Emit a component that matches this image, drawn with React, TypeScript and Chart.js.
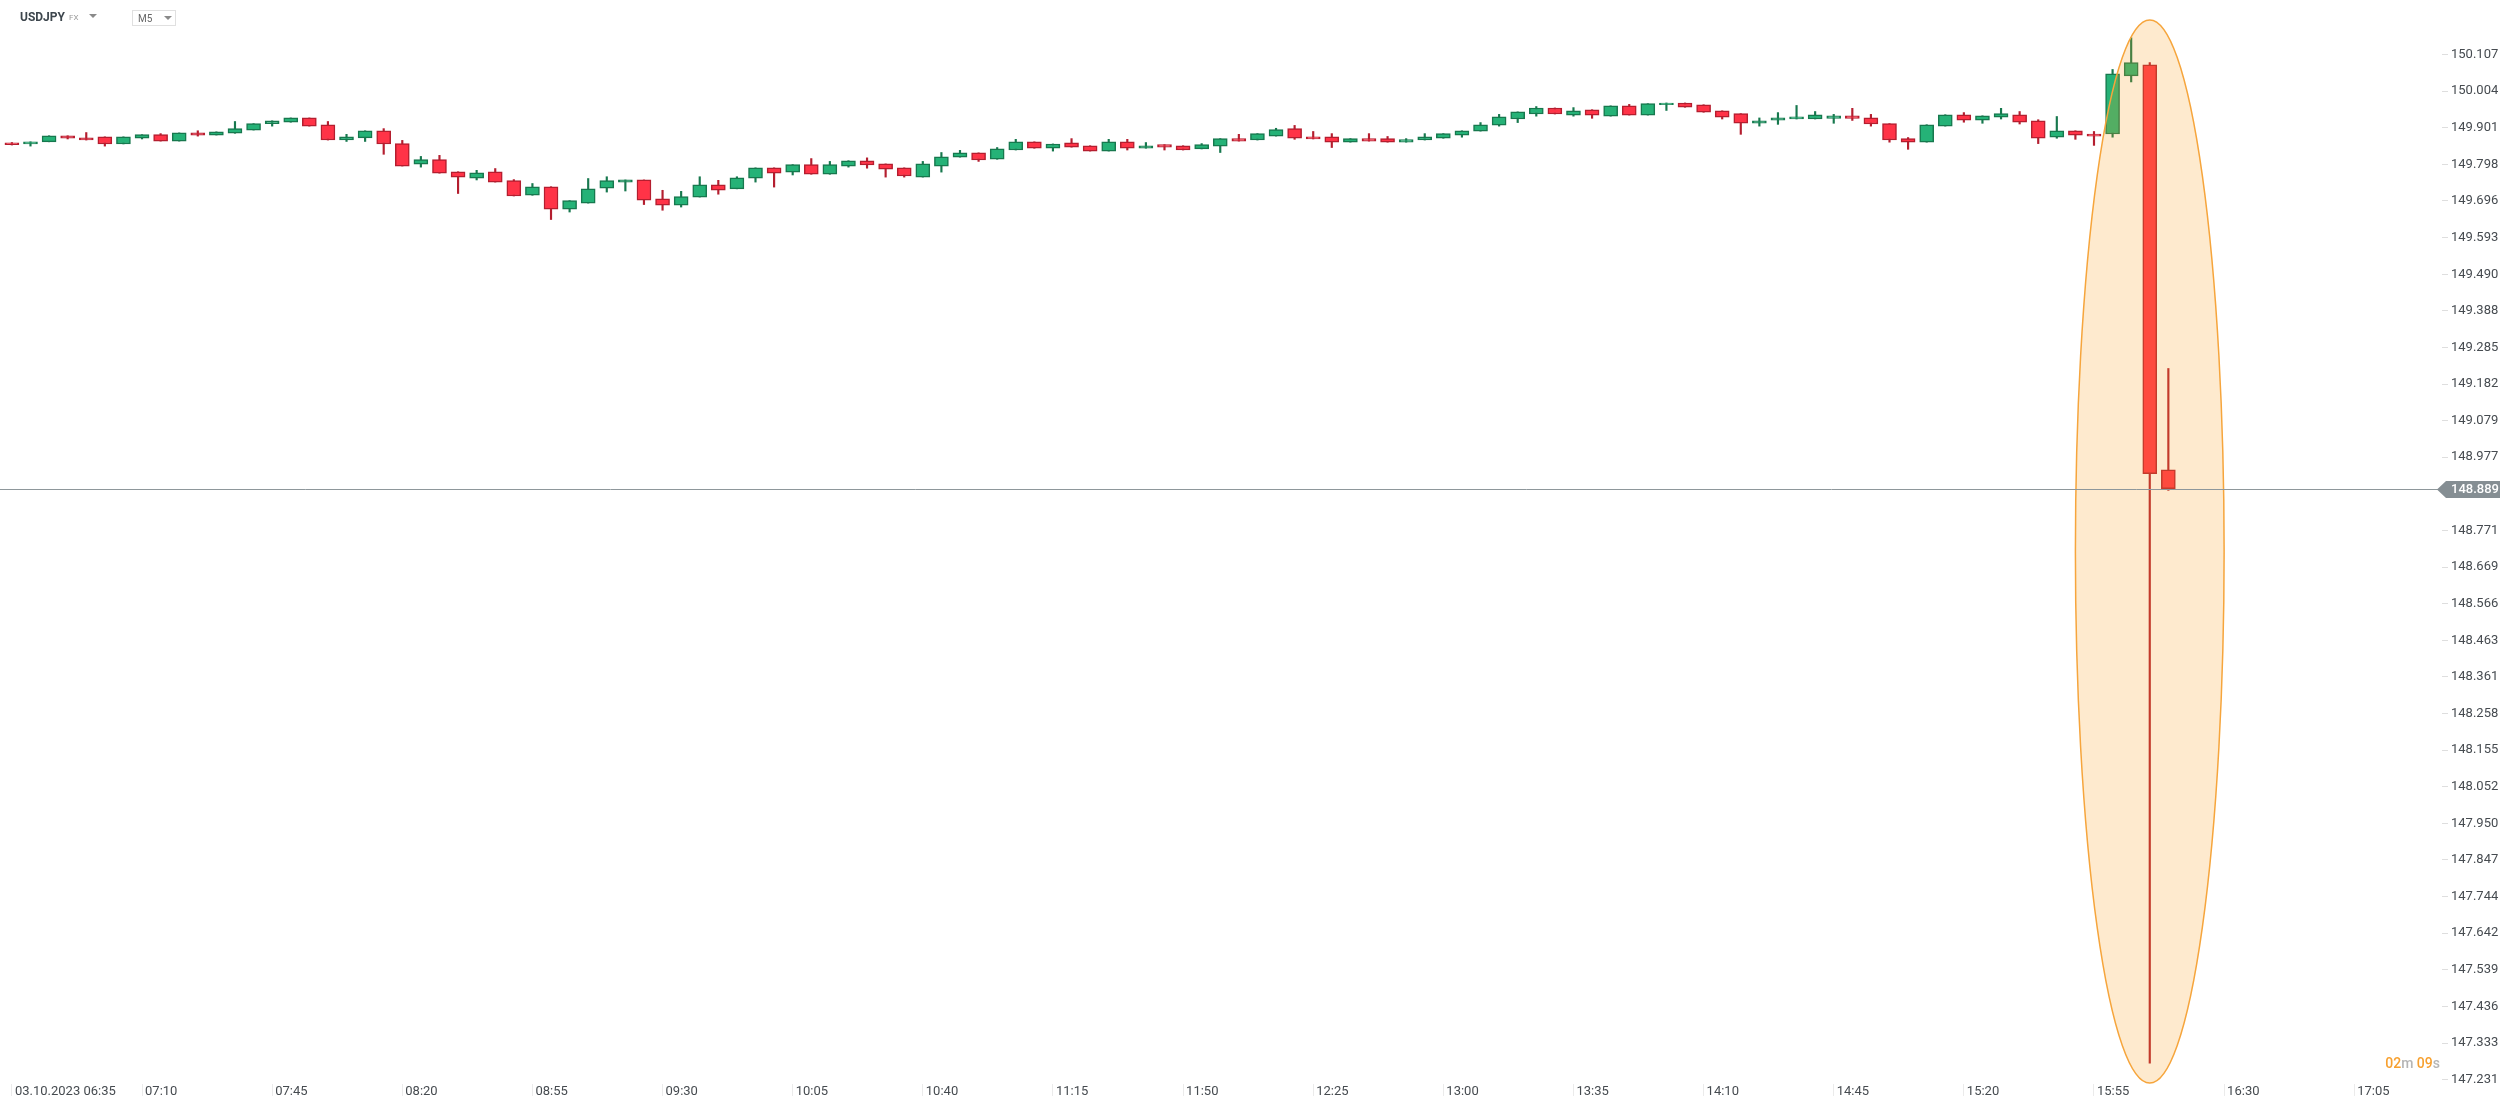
import React, { useEffect, useRef } from 'react';
import { Chart, registerables } from 'chart.js';

Chart.register(...registerables);

// ---------- data ----------
const symbol = 'USDJPY';
const market = 'FX';
const timeframe = 'M5';
const countdown = { minutes: '02', seconds: '09' };

// x-axis tick labels, one every 7 candles (35 min), first candle = 06:35
const xTickLabels = [
  '03.10.2023 06:35', '07:10', '07:45', '08:20', '08:55', '09:30', '10:05', '10:40', '11:15', '11:50',
  '12:25', '13:00', '13:35', '14:10', '14:45', '15:20', '15:55', '16:30', '17:05',
];
const candlesPerXTick = 7;

// y-axis tick labels (148.874 is hidden under the last-price tag)
const yTickLabels = [
  '147.231', '147.333', '147.436', '147.539', '147.642', '147.744', '147.847', '147.950', '148.052',
  '148.155', '148.258', '148.361', '148.463', '148.566', '148.669', '148.771', '148.977', '149.079',
  '149.182', '149.285', '149.388', '149.490', '149.593', '149.696', '149.798', '149.901', '150.004', '150.107',
];
const yMin = 147.2184;
const yMax = 150.2038;
const xMin = -0.64;
const xMax = 130.72;

const opens = [
  149.859, 149.856, 149.862, 149.879, 149.873, 149.876, 149.856, 149.872, 149.882, 149.864,
  149.887, 149.881, 149.886, 149.895, 149.913, 149.917, 149.929, 149.910, 149.867, 149.873,
  149.893, 149.857, 149.799, 149.812, 149.778, 149.760, 149.778, 149.753, 149.712, 149.736,
  149.673, 149.690, 149.732, 149.749, 149.755, 149.702, 149.684, 149.707, 149.741, 149.730,
  149.760, 149.789, 149.777, 149.798, 149.771, 149.794, 149.809, 149.800, 149.789, 149.763,
  149.794, 149.819, 149.831, 149.813, 149.839, 149.862, 149.844, 149.859, 149.851, 149.836,
  149.862, 149.844, 149.854, 149.851, 149.842, 149.850, 149.871, 149.867, 149.878, 149.899,
  149.876, 149.876, 149.861, 149.871, 149.871, 149.861, 149.867, 149.872, 149.881, 149.892,
  149.909, 149.926, 149.940, 149.957, 149.937, 149.952, 149.934, 149.963, 149.937, 149.966,
  149.971, 149.966, 149.949, 149.941, 149.914, 149.923, 149.926, 149.926, 149.928, 149.935,
  149.929, 149.913, 149.871, 149.861, 149.906, 149.938, 149.923, 149.931, 149.938, 149.921,
  149.875, 149.893, 149.884, 149.884, 150.047, 150.078, 148.942,
];
const highs = [
  149.860, 149.862, 149.879, 149.879, 149.888, 149.876, 149.876, 149.882, 149.885, 149.887,
  149.893, 149.890, 149.919, 149.913, 149.921, 149.929, 149.929, 149.919, 149.883, 149.893,
  149.899, 149.866, 149.821, 149.824, 149.778, 149.782, 149.787, 149.756, 149.745, 149.736,
  149.697, 149.759, 149.764, 149.755, 149.755, 149.726, 149.723, 149.764, 149.754, 149.764,
  149.789, 149.789, 149.798, 149.815, 149.807, 149.809, 149.817, 149.800, 149.789, 149.807,
  149.832, 149.838, 149.831, 149.846, 149.869, 149.862, 149.856, 149.871, 149.851, 149.869,
  149.869, 149.860, 149.854, 149.851, 149.857, 149.871, 149.883, 149.885, 149.900, 149.908,
  149.891, 149.885, 149.871, 149.885, 149.877, 149.871, 149.885, 149.885, 149.893, 149.916,
  149.939, 149.946, 149.961, 149.957, 149.958, 149.952, 149.963, 149.967, 149.969, 149.971,
  149.971, 149.966, 149.949, 149.941, 149.929, 149.944, 149.964, 149.947, 149.939, 149.956,
  149.939, 149.913, 149.874, 149.910, 149.938, 149.944, 149.935, 149.956, 149.947, 149.924,
  149.933, 149.893, 149.891, 150.065, 150.154, 150.084, 149.226,
];
const lows = [
  149.853, 149.850, 149.862, 149.870, 149.867, 149.850, 149.856, 149.870, 149.864, 149.864,
  149.878, 149.881, 149.886, 149.895, 149.906, 149.917, 149.906, 149.867, 149.863, 149.863,
  149.827, 149.794, 149.791, 149.774, 149.717, 149.755, 149.749, 149.710, 149.712, 149.644,
  149.665, 149.690, 149.721, 149.724, 149.686, 149.670, 149.679, 149.707, 149.715, 149.730,
  149.749, 149.735, 149.769, 149.771, 149.771, 149.791, 149.788, 149.763, 149.763, 149.763,
  149.777, 149.819, 149.807, 149.813, 149.839, 149.844, 149.836, 149.847, 149.836, 149.836,
  149.839, 149.844, 149.839, 149.839, 149.842, 149.832, 149.864, 149.867, 149.878, 149.869,
  149.870, 149.846, 149.861, 149.864, 149.861, 149.861, 149.867, 149.872, 149.875, 149.892,
  149.906, 149.916, 149.934, 149.940, 149.934, 149.928, 149.934, 149.937, 149.937, 149.950,
  149.959, 149.945, 149.926, 149.883, 149.906, 149.911, 149.926, 149.926, 149.914, 149.922,
  149.906, 149.861, 149.841, 149.861, 149.906, 149.917, 149.914, 149.926, 149.912, 149.857,
  149.872, 149.869, 149.852, 149.875, 150.030, 147.277, 148.884,
];
const closes = [
  149.854, 149.862, 149.879, 149.872, 149.867, 149.856, 149.876, 149.882, 149.864, 149.887,
  149.881, 149.890, 149.899, 149.913, 149.921, 149.929, 149.906, 149.867, 149.876, 149.893,
  149.856, 149.794, 149.812, 149.774, 149.763, 149.775, 149.749, 149.710, 149.736, 149.673,
  149.697, 149.730, 149.753, 149.755, 149.698, 149.684, 149.708, 149.741, 149.726, 149.761,
  149.789, 149.774, 149.798, 149.771, 149.798, 149.809, 149.797, 149.785, 149.766, 149.800,
  149.820, 149.831, 149.811, 149.842, 149.862, 149.844, 149.856, 149.847, 149.836, 149.862,
  149.844, 149.851, 149.847, 149.839, 149.854, 149.871, 149.864, 149.885, 149.896, 149.872,
  149.870, 149.861, 149.871, 149.864, 149.861, 149.868, 149.876, 149.885, 149.893, 149.910,
  149.932, 149.946, 149.957, 149.940, 149.949, 149.937, 149.963, 149.937, 149.969, 149.971,
  149.959, 149.945, 149.931, 149.914, 149.921, 149.929, 149.932, 149.938, 149.935, 149.928,
  149.912, 149.867, 149.861, 149.910, 149.938, 149.923, 149.935, 149.941, 149.917, 149.872,
  149.893, 149.881, 149.878, 150.053, 150.084, 148.931, 148.889,
];
const lastPrice = 148.889;

// highlight annotation (data coordinates)
const highlight = { centerIndex: 115, halfWidthCandles: 4, top: 150.204, bottom: 147.221 };

// ---------- styles ----------
const UP_FILL = '#25b277';
const UP_EDGE = '#17784e';
const DOWN_FILL = '#ff3347';
const DOWN_EDGE = '#b41e2f';
const LABEL_COLOR = '#464b50';
const FONT = 'Roboto, "Noto Sans", Arial, sans-serif';

const overlayPlugin = {
  id: 'overlayPlugin',
  afterDatasetsDraw(chart: any) {
    const { ctx, chartArea, scales } = chart;
    const xs = scales.x;
    const ys = scales.y;
    // highlight ellipse
    const cx = xs.getPixelForValue(highlight.centerIndex);
    const rx = xs.getPixelForValue(highlight.centerIndex + highlight.halfWidthCandles) - cx;
    const yt = ys.getPixelForValue(highlight.top);
    const yb = ys.getPixelForValue(highlight.bottom);
    ctx.save();
    ctx.beginPath();
    ctx.ellipse(cx, (yt + yb) / 2, rx, (yb - yt) / 2, 0, 0, Math.PI * 2);
    ctx.fillStyle = 'rgba(252, 158, 34, 0.22)';
    ctx.fill();
    ctx.lineWidth = 1.5;
    ctx.strokeStyle = '#f6a53c';
    ctx.stroke();
    ctx.restore();

    // last price line
    const py = Math.round(ys.getPixelForValue(lastPrice)) + 0.5;
    ctx.save();
    ctx.beginPath();
    ctx.moveTo(chartArea.left, py);
    ctx.lineTo(chartArea.right, py);
    ctx.lineWidth = 1;
    ctx.strokeStyle = '#8e979b';
    ctx.stroke();
    ctx.restore();
  },
  afterDraw(chart: any) {
    const { ctx, chartArea, scales } = chart;
    const ys = scales.y;
    const py = Math.round(ys.getPixelForValue(lastPrice)) + 0.5;
    const r = chartArea.right;
    ctx.save();
    ctx.beginPath();
    ctx.moveTo(r - 5, py);
    ctx.lineTo(r + 4, py - 8.5);
    ctx.lineTo(r + 58, py - 8.5);
    ctx.lineTo(r + 58, py + 8.5);
    ctx.lineTo(r + 4, py + 8.5);
    ctx.closePath();
    ctx.fillStyle = '#858e93';
    ctx.fill();
    ctx.fillStyle = '#ffffff';
    ctx.font = `500 13px ${FONT}`;
    ctx.textAlign = 'left';
    ctx.textBaseline = 'middle';
    ctx.fillText(lastPrice.toFixed(3), r + 9, py + 0.5);
    ctx.restore();
  },
};

export default function App() {
  const canvasRef = useRef<HTMLCanvasElement | null>(null);

  useEffect(() => {
    const canvas = canvasRef.current;
    if (!canvas) return;
    const isUp = opens.map((o, i) => closes[i] >= o);
    const bodyData = opens.map((o, i) => ({ x: i, y: [o, closes[i]] }));
    const wickData = highs.map((h, i) => ({ x: i, y: [lows[i], h] }));

    const chart = new Chart(canvas, {
      type: 'bar',
      data: {
        datasets: [
          {
            label: 'body',
            data: bodyData as any,
            backgroundColor: isUp.map((u) => (u ? UP_FILL : DOWN_FILL)),
            borderColor: isUp.map((u) => (u ? UP_EDGE : DOWN_EDGE)),
            borderWidth: 1.5,
            borderSkipped: false,
            barThickness: 14,
            grouped: false,
            order: 0,
          } as any,
          {
            label: 'wick',
            data: wickData as any,
            backgroundColor: isUp.map((u) => (u ? UP_EDGE : DOWN_EDGE)),
            borderWidth: 0,
            barThickness: 1.5,
            grouped: false,
            order: 1,
          } as any,
        ],
      },
      options: {
        responsive: false,
        animation: false,
        devicePixelRatio: 1,
        layout: { padding: { top: 20, left: 0, right: 0, bottom: 0 }, autoPadding: false } as any,
        plugins: { legend: { display: false }, tooltip: { enabled: false } },
        events: [],
        scales: {
          x: {
            type: 'linear',
            min: xMin,
            max: xMax,
            offset: false,
            border: { display: false },
            grid: {
              display: true,
              offset: false,
              drawOnChartArea: false,
              drawTicks: true,
              tickLength: 12,
              color: '#ebebeb',
            },
            afterFit: (scale: any) => {
              scale.height = 25;
            },
            afterBuildTicks: (scale: any) => {
              scale.ticks = xTickLabels.map((_, k) => ({ value: k * candlesPerXTick }));
            },
            ticks: {
              autoSkip: false,
              maxRotation: 0,
              minRotation: 0,
              align: 'start',
              padding: -12,
              labelOffset: 3,
              color: LABEL_COLOR,
              font: { family: FONT, size: 13 },
              callback: (_v: any, i: number) => xTickLabels[i],
            },
          } as any,
          y: {
            type: 'linear',
            position: 'right',
            min: yMin,
            max: yMax,
            border: { display: false },
            grid: {
              display: true,
              drawOnChartArea: false,
              drawTicks: true,
              tickLength: 6,
              color: '#dedede',
            },
            afterFit: (scale: any) => {
              scale.width = 64;
            },
            afterBuildTicks: (scale: any) => {
              scale.ticks = yTickLabels.map((l) => ({ value: parseFloat(l) }));
            },
            ticks: {
              autoSkip: false,
              padding: 3,
              color: LABEL_COLOR,
              font: { family: FONT, size: 13 },
              callback: (_v: any, i: number) => yTickLabels[i],
            },
          } as any,
        },
      },
      plugins: [overlayPlugin],
    });
    return () => chart.destroy();
  }, []);

  return (
    <div
      style={{
        position: 'fixed',
        left: 0,
        top: 0,
        width: 2506,
        height: 1109,
        background: '#ffffff',
        overflow: 'hidden',
        fontFamily: FONT,
      }}
    >
      <canvas ref={canvasRef} width={2506} height={1109} style={{ position: 'absolute', left: 0, top: 0 }} />
      {/* header */}
      <div style={{ position: 'absolute', left: 20, top: 9, fontSize: 12, fontWeight: 700, color: '#3d464d', lineHeight: '17px' }}>
        {symbol}
      </div>
      <div style={{ position: 'absolute', left: 69, top: 12, fontSize: 8, color: '#9a9a9a', lineHeight: '12px' }}>{market}</div>
      <div
        style={{
          position: 'absolute',
          left: 89,
          top: 14,
          width: 0,
          height: 0,
          borderLeft: '4px solid transparent',
          borderRight: '4px solid transparent',
          borderTop: '4px solid #8a8a8a',
        }}
      />
      <div
        style={{
          position: 'absolute',
          left: 132,
          top: 10,
          width: 42,
          height: 14,
          border: '1px solid #e0e0e0',
          boxSizing: 'content-box',
        }}
      >
        <span style={{ position: 'absolute', left: 5, top: 1, fontSize: 10, color: '#666', lineHeight: '13px' }}>{timeframe}</span>
        <span
          style={{
            position: 'absolute',
            left: 31,
            top: 5,
            width: 0,
            height: 0,
            borderLeft: '4px solid transparent',
            borderRight: '4px solid transparent',
            borderTop: '4px solid #8a8a8a',
          }}
        />
      </div>
      {/* countdown */}
      <div
        style={{
          position: 'absolute',
          left: 2340,
          top: 1054,
          width: 100,
          textAlign: 'right',
          fontSize: 14,
          lineHeight: '18px',
          fontWeight: 500,
        }}
      >
        <span style={{ color: '#f7a02f' }}>{countdown.minutes}</span>
        <span style={{ color: '#b5b5b5' }}>m </span>
        <span style={{ color: '#f7a02f' }}>{countdown.seconds}</span>
        <span style={{ color: '#b5b5b5' }}>s</span>
      </div>
    </div>
  );
}
